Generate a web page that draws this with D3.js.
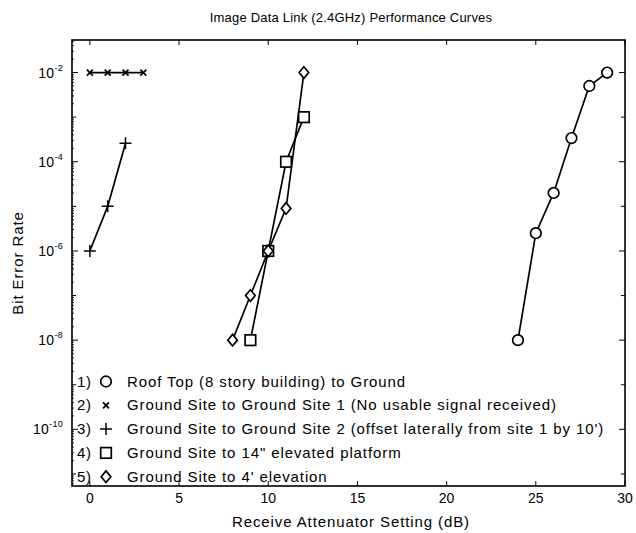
<!DOCTYPE html>
<html>
<head>
<meta charset="utf-8">
<script src="https://cdn.jsdelivr.net/npm/d3@7"></script>
<style>
  body { margin: 0; background: #fff; }
  text { font-family: "Liberation Sans", Arial, sans-serif; fill: #000; }
</style>
</head>
<body>
<svg id="chart" width="636" height="533"></svg>
<script>
// data -------------------------------
const roofX = [24, 25, 26, 27, 28, 29];
const roofY = [1e-8, 2.5e-6, 2e-5, 3.4e-4, 5e-3, 1e-2];
const site1X = [0, 1, 2, 3];
const site1Y = [1e-2, 1e-2, 1e-2, 1e-2];
const site2X = [0, 1, 2];
const site2Y = [1e-6, 1e-5, 2.6e-4];
const platX = [9, 10, 11, 12];
const platY = [1e-8, 1e-6, 1e-4, 1e-3];
const elevX = [8, 9, 10, 11, 12];
const elevY = [1e-8, 1e-7, 1e-6, 9e-6, 1e-2];

const xTicks = [0, 5, 10, 15, 20, 25, 30];
const yLabelExp = [-2, -4, -6, -8, -10];
const legendLabels = [
  "Roof Top (8 story building) to Ground",
  "Ground Site to Ground Site 1 (No usable signal received)",
  "Ground Site to Ground Site 2 (offset laterally from site 1 by 10')",
  "Ground Site to 14\" elevated platform",
  "Ground Site to 4' elevation"
];

const series = [
  { xs: roofX, ys: roofY, sym: "circle" },
  { xs: site1X, ys: site1Y, sym: "cross" },
  { xs: site2X, ys: site2Y, sym: "plus" },
  { xs: platX, ys: platY, sym: "square" },
  { xs: elevX, ys: elevY, sym: "diamond" }
];

const margin = { left: 72, right: 11, top: 40, bottom: 47 };
const W = 636, H = 533;

const x = d3.scaleLinear().domain([-1, 30]).range([margin.left, W - margin.right]);
const y = d3.scaleLog().domain([Math.pow(10, -11.27), Math.pow(10, -1.27)])
  .range([H - margin.bottom, margin.top]);

const svg = d3.select("#chart");

// draw one marker at (cx, cy)
function marker(g, sym, cx, cy) {
  if (sym === "circle") {
    g.append("circle").attr("cx", cx).attr("cy", cy).attr("r", 5.3)
      .attr("fill", "#fff").attr("stroke", "#000").attr("stroke-width", 1.7);
  } else if (sym === "square") {
    g.append("rect").attr("x", cx - 5.3).attr("y", cy - 5.3).attr("width", 10.6).attr("height", 10.6)
      .attr("fill", "#fff").attr("stroke", "#000").attr("stroke-width", 1.7);
  } else if (sym === "diamond") {
    g.append("path").attr("d", `M${cx},${cy - 5.8}L${cx + 4.8},${cy}L${cx},${cy + 5.8}L${cx - 4.8},${cy}Z`)
      .attr("fill", "#fff").attr("stroke", "#000").attr("stroke-width", 1.7);
  } else if (sym === "plus") {
    g.append("path").attr("d", `M${cx - 6},${cy}H${cx + 6}M${cx},${cy - 6}V${cy + 6}`)
      .attr("stroke", "#000").attr("stroke-width", 1.5);
  } else if (sym === "cross") {
    g.append("path").attr("d", `M${cx - 3},${cy - 3}L${cx + 3},${cy + 3}M${cx - 3},${cy + 3}L${cx + 3},${cy - 3}`)
      .attr("stroke", "#000").attr("stroke-width", 1.7);
  }
}

// frame and ticks ----------
const x0 = margin.left, x1 = W - margin.right, y0 = margin.top, y1 = H - margin.bottom;
const frame = svg.append("g").attr("stroke", "#000").attr("fill", "none");
frame.append("rect").attr("x", x0).attr("y", y0).attr("width", x1 - x0).attr("height", y1 - y0)
  .attr("stroke-width", 1.6);

xTicks.forEach(t => {
  frame.append("line").attr("x1", x(t)).attr("x2", x(t)).attr("y1", y1).attr("y2", y1 - 5);
  frame.append("line").attr("x1", x(t)).attr("x2", x(t)).attr("y1", y0).attr("y2", y0 + 5);
});

for (let e = -11; e <= -2; e++) {
  const len = (e % 2 === 0) ? 6 : 4;
  const yy = y(Math.pow(10, e));
  frame.append("line").attr("x1", x0).attr("x2", x0 + len).attr("y1", yy).attr("y2", yy);
  frame.append("line").attr("x1", x1).attr("x2", x1 - len).attr("y1", yy).attr("y2", yy);
}
// minor log ticks on the left axis
for (let e = -12; e <= -2; e++) {
  for (let m = 2; m < 10; m++) {
    const ym = y(m * Math.pow(10, e));
    if (ym < y0 || ym > y1) continue;
    frame.append("line").attr("x1", x0).attr("x2", x0 + 2).attr("y1", ym).attr("y2", ym)
      .attr("stroke-width", 0.8);
  }
}

// tick labels ----------
svg.append("g").selectAll("text").data(xTicks).enter().append("text")
  .attr("x", d => x(d)).attr("y", y1 + 17)
  .attr("text-anchor", "middle").attr("font-size", 14)
  .text(d => d);

const yl = svg.append("g").selectAll("text").data(yLabelExp).enter().append("text")
  .attr("x", x0 - 22).attr("y", d => y(Math.pow(10, d)) + 5)
  .attr("font-size", 14).attr("letter-spacing", 0.3);
yl.append("tspan").text("10");
yl.append("tspan").attr("dy", -7).attr("font-size", 9).text(d => d);
// right-align the whole label against the axis
yl.each(function () {
  const bb = this.getBBox();
  d3.select(this).attr("x", x0 - 9 - bb.width);
});

// titles ----------
svg.append("text").attr("x", 351).attr("y", 22).attr("text-anchor", "middle")
  .attr("font-size", 13).attr("letter-spacing", 0.2)
  .text("Image Data Link (2.4GHz) Performance Curves");
svg.append("text").attr("x", 351).attr("y", 527).attr("text-anchor", "middle")
  .attr("font-size", 15).attr("letter-spacing", 0.9)
  .text("Receive Attenuator Setting (dB)");
svg.append("text").attr("transform", `translate(23,${(y0 + y1) / 2}) rotate(-90)`)
  .attr("text-anchor", "middle").attr("font-size", 15).attr("letter-spacing", 0.9)
  .text("Bit Error Rate");

// series ----------
const line = d3.line().x(d => x(d[0])).y(d => y(d[1]));
const plot = svg.append("g");
series.forEach(s => {
  const pts = s.xs.map((v, i) => [v, s.ys[i]]);
  plot.append("path").attr("d", line(pts)).attr("fill", "none")
    .attr("stroke", "#000").attr("stroke-width", 1.7);
});
series.forEach(s => {
  s.xs.forEach((v, i) => marker(plot, s.sym, x(v), y(s.ys[i])));
});

// legend ----------
const leg = svg.append("g");
legendLabels.forEach((lab, i) => {
  const ly = 386.5 + i * 23.8;
  leg.append("text").attr("x", 77).attr("y", ly).attr("font-size", 15)
    .attr("letter-spacing", 0.6).text((i + 1) + ")");
  marker(leg, series[i].sym, 106, ly - 5);
  leg.append("text").attr("x", 127).attr("y", ly).attr("font-size", 15)
    .attr("letter-spacing", 0.9).text(lab);
});
</script>
</body>
</html>
